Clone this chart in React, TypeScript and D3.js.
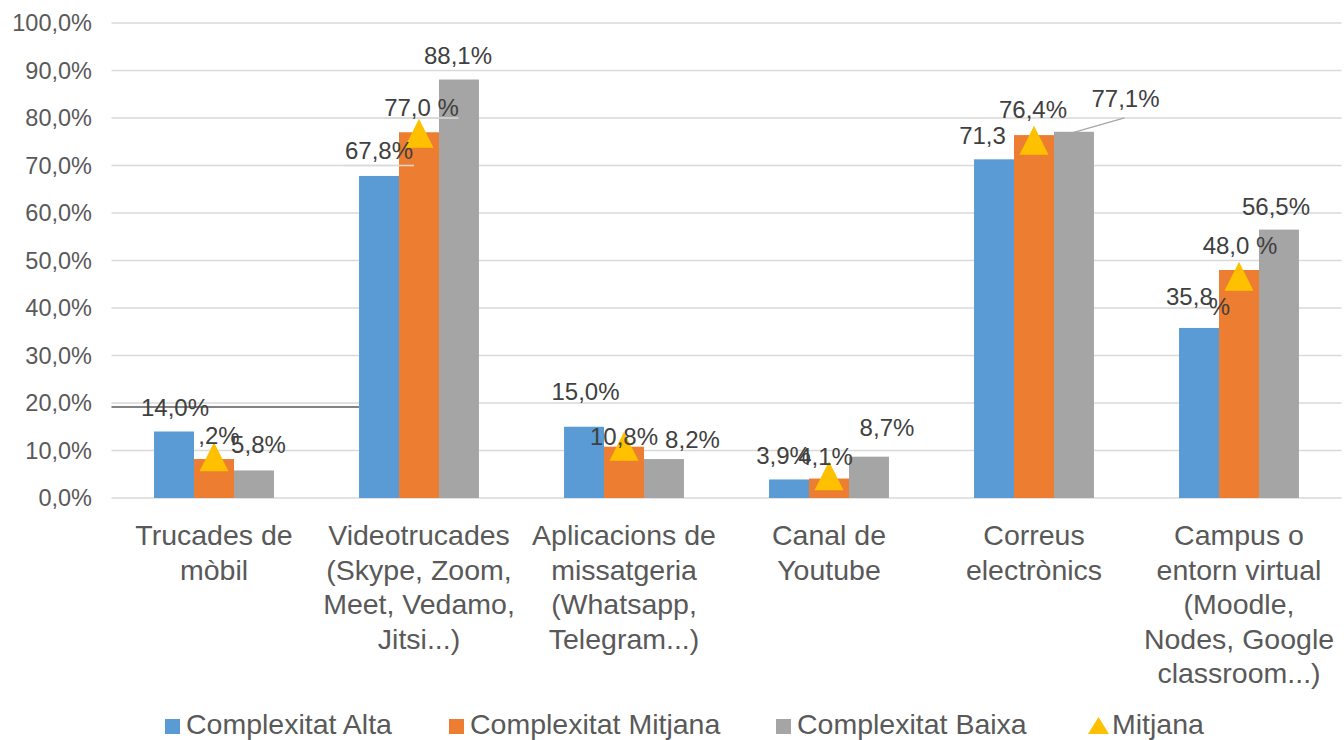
import React from "react";
import * as d3 from "d3";

const categories: string[][] = [
  ["Trucades de", "mòbil"],
  ["Videotrucades", "(Skype, Zoom,", "Meet, Vedamo,", "Jitsi...)"],
  ["Aplicacions de", "missatgeria", "(Whatsapp,", "Telegram...)"],
  ["Canal de", "Youtube"],
  ["Correus", "electrònics"],
  ["Campus o", "entorn virtual", "(Moodle,", "Nodes, Google", "classroom...)"],
];
const seriesNames = ["Complexitat Alta", "Complexitat Mitjana", "Complexitat Baixa"];
const alta = [14.0, 67.8, 15.0, 3.9, 71.3, 35.8];
const mitjanaBar = [8.2, 77.0, 10.8, 4.1, 76.4, 48.0];
const baixa = [5.8, 88.1, 8.2, 8.7, 77.1, 56.5];
const mitjana = [8.7, 76.8, 10.9, 4.7, 75.3, 46.7];
const yTicks = [0, 10, 20, 30, 40, 50, 60, 70, 80, 90, 100];

// visible data-label texts as they appear
const labelTexts = [
  ["14,0%", "67,8%", "15,0%", "3,9%", "71,3", "35,8%"],
  [",2%", "77,0 %", "10,8%", "4,1%", "76,4%", "48,0 %"],
  ["5,8%", "88,1%", "8,2%", "8,7%", "77,1%", "56,5%"],
];
// manual label nudges [dx, dy] relative to bar top centre
const labelNudges: number[][][] = [
  [[1, -24.5], [0, -25], [1.5, -35], [-5.5, -23.5], [-11.5, -24.3], [0, -31]],
  [[5, -24], [2.5, -25], [0, -10], [-3.5, -22.5], [-1, -26], [1, -25]],
  [[4.5, -25.5], [-1, -24.5], [28.5, -20], [18, -28.7], [51.5, -33], [-3, -23.6]],
];

const colors = ["#5B9BD5", "#ED7D31", "#A5A5A5"];
const triColor = "#FFC000";
const FONT = "'Liberation Sans', Arial, sans-serif";

export default function App() {
  const W = 1344, H = 740;
  const x0 = 111.5, x1 = 1341.5;
  const y = d3.scaleLinear().domain([0, 100]).range([498, 23]);
  const xb = d3
    .scaleBand<number>()
    .domain(d3.range(categories.length))
    .range([x0, x1])
    .paddingInner(0.415)
    .paddingOuter(0.2075);
  const xs = d3.scaleBand<number>().domain([0, 1, 2]).range([0, xb.bandwidth()]);
  const data = [alta, mitjanaBar, baixa];
  const triPath = (cx: number, cy: number) =>
    d3.line()([
      [cx, cy - 14.5],
      [cx + 14.5, cy + 14.5],
      [cx - 14.5, cy + 14.5],
    ]) + "Z";

  const labelPos = (s: number, i: number) => {
    const cx = (xb(i) as number) + (xs(s) as number) + xs.bandwidth() / 2;
    const top = y(data[s][i]);
    return { cx, top, lx: cx + labelNudges[s][i][0], ly: top + labelNudges[s][i][1] };
  };

  const l14 = labelPos(0, 0);
  const l771 = labelPos(2, 4);
  const l678 = labelPos(0, 1);
  const l770 = labelPos(1, 1);

  return (
    <svg
      width={W}
      height={H}
      style={{ position: "absolute", left: 0, top: 0, background: "#fff" }}
      fontFamily={FONT}
    >
      {/* gridlines */}
      {yTicks.map((t) => (
        <line key={t} x1={x0} x2={x1} y1={y(t)} y2={y(t)} stroke="#D9D9D9" strokeWidth={1.3} />
      ))}
      {/* y tick labels */}
      {yTicks.map((t) => (
        <text
          key={t}
          x={92}
          y={y(t)}
          textAnchor="end"
          dominantBaseline="central"
          fontSize={23.5}
          fill="#595959"
        >
          {d3.format(".1f")(t).replace(".", ",") + "%"}
        </text>
      ))}
      {/* bars */}
      {data.map((vals, s) =>
        vals.map((v, i) => (
          <rect
            key={`${s}-${i}`}
            x={(xb(i) as number) + (xs(s) as number)}
            y={y(v)}
            width={xs.bandwidth()}
            height={y(0) - y(v)}
            fill={colors[s]}
          />
        ))
      )}
      {/* label underline leader lines */}
      <line x1={l678.lx - 35} x2={l678.lx + 35} y1={y(70)} y2={y(70)} stroke="#D9D9D9" strokeWidth={1.3} />
      <line x1={l770.lx - 37} x2={l770.lx + 37} y1={y(80)} y2={y(80)} stroke="#D9D9D9" strokeWidth={1.3} />
      {/* leader line for 14,0% */}
      <line
        x1={x0}
        x2={xb(1) as number}
        y1={l14.ly}
        y2={l14.ly}
        stroke="#595959"
        strokeWidth={1.5}
      />
      {/* leader line for 77,1% */}
      <line
        x1={l771.lx - 1}
        y1={l771.ly + 19}
        x2={l771.cx - 2}
        y2={l771.top + 1}
        stroke="#A6A6A6"
        strokeWidth={1.3}
      />
      {/* triangles */}
      {mitjana.map((v, i) => (
        <path
          key={i}
          d={triPath((xb(i) as number) + (xs(1) as number) + xs.bandwidth() / 2, y(v))}
          fill={triColor}
        />
      ))}
      {/* data labels */}
      {data.map((vals, s) =>
        vals.map((v, i) => {
          const p = labelPos(s, i);
          const txt = labelTexts[s][i];
          if (txt === "35,8%") {
            return (
              <text key={`l${s}-${i}`} x={p.lx - 33} y={p.ly} dominantBaseline="central" fontSize={24} fill="#404040">
                35,8
                <tspan dx={-4} dy={9}>%</tspan>
              </text>
            );
          }
          return (
            <text
              key={`l${s}-${i}`}
              x={p.lx}
              y={p.ly}
              textAnchor="middle"
              dominantBaseline="central"
              fontSize={24}
              fill="#404040"
            >
              {txt}
            </text>
          );
        })
      )}
      {/* category labels */}
      {categories.map((lines, i) => (
        <text
          key={i}
          x={(xb(i) as number) + xb.bandwidth() / 2}
          textAnchor="middle"
          fontSize={28.5}
          fill="#595959"
        >
          {lines.map((ln, k) => (
            <tspan key={k} x={(xb(i) as number) + xb.bandwidth() / 2} y={545 + 34.6 * k}>
              {ln}
            </tspan>
          ))}
        </text>
      ))}
      {/* legend */}
      {seriesNames.map((n, s) => {
        const lx = [165, 449, 776][s];
        return (
          <g key={n}>
            <rect x={lx} y={719} width={15} height={15} fill={colors[s]} />
            <text x={lx + 21} y={734} fontSize={28.5} fill="#595959">
              {n}
            </text>
          </g>
        );
      })}
      <path d="M1098.5,717 L1109,734 L1088,734 Z" fill={triColor} />
      <text x={1112} y={734} fontSize={28.5} fill="#595959">
        Mitjana
      </text>
    </svg>
  );
}
